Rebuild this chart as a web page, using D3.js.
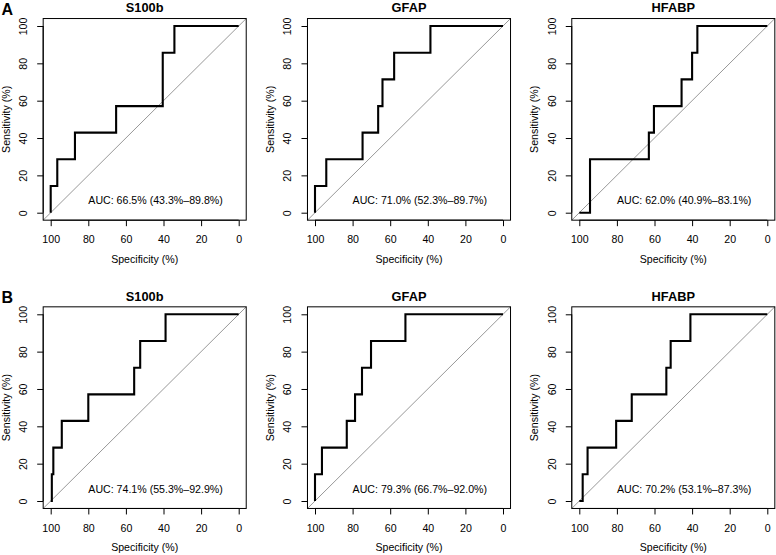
<!DOCTYPE html>
<html>
<head>
<meta charset="utf-8">
<script src="https://cdn.jsdelivr.net/npm/d3@7"></script>
<style>
  html, body { margin: 0; padding: 0; background: #fff; }
  svg { display: block; font-family: "Liberation Sans", Arial, Helvetica, sans-serif; }
</style>
</head>
<body>
<svg id="chart" width="776" height="555"></svg>
<script>
// ---- data ----
const rowLabels = ["A", "B"];
const markers = ["S100b", "GFAP", "HFABP"];
const xTicks = [100, 80, 60, 40, 20, 0];
const yTicks = [0, 20, 40, 60, 80, 100];
const xTitle = "Specificity (%)";
const yTitle = "Sensitivity (%)";

const aucA = ["AUC: 66.5% (43.3%\u201389.8%)", "AUC: 71.0% (52.3%\u201389.7%)", "AUC: 62.0% (40.9%\u201383.1%)"];
const aucB = ["AUC: 74.1% (55.3%\u201392.9%)", "AUC: 79.3% (66.7%\u201392.0%)", "AUC: 70.2% (53.1%\u201387.3%)"];

// ROC coordinates (specificity %, sensitivity %)
const specA_S100b = [100, 100, 96.5, 96.5, 87.1, 87.1, 65.2, 65.2, 40.4, 40.4, 34.2, 34.2, 0];
const sensA_S100b = [0, 14.3, 14.3, 28.6, 28.6, 42.9, 42.9, 57.1, 57.1, 85.7, 85.7, 100, 100];

const specA_GFAP = [100, 100, 94.0, 94.0, 74.7, 74.7, 66.4, 66.4, 64.1, 64.1, 57.9, 57.9, 38.6, 38.6, 0];
const sensA_GFAP = [0, 14.3, 14.3, 28.6, 28.6, 42.9, 42.9, 57.1, 57.1, 71.4, 71.4, 85.7, 85.7, 100, 100];

const specA_HFABP = [100, 94.3, 94.3, 63.0, 63.0, 60.3, 60.3, 45.6, 45.6, 40.0, 40.0, 37.2, 37.2, 0];
const sensA_HFABP = [0, 0, 28.6, 28.6, 42.9, 42.9, 57.1, 57.1, 71.4, 71.4, 85.7, 85.7, 100, 100];

const specB_S100b = [100, 99.4, 99.4, 98.6, 98.6, 94.1, 94.1, 80.0, 80.0, 55.6, 55.6, 52.4, 52.4, 38.9, 38.9, 0];
const sensB_S100b = [0, 0, 14.3, 14.3, 28.6, 28.6, 42.9, 42.9, 57.1, 57.1, 71.4, 71.4, 85.7, 85.7, 100, 100];

const specB_GFAP = [100, 100, 96.3, 96.3, 83.1, 83.1, 78.7, 78.7, 75.0, 75.0, 70.2, 70.2, 51.9, 51.9, 0];
const sensB_GFAP = [0, 14.3, 14.3, 28.6, 28.6, 42.9, 42.9, 57.1, 57.1, 71.4, 71.4, 85.7, 85.7, 100, 100];

const specB_HFABP = [100, 98.2, 98.2, 95.6, 95.6, 80.4, 80.4, 72.1, 72.1, 53.7, 53.7, 51.4, 51.4, 40.9, 40.9, 0];
const sensB_HFABP = [0, 0, 14.3, 14.3, 28.6, 28.6, 42.9, 42.9, 57.1, 57.1, 71.4, 71.4, 85.7, 85.7, 100, 100];

// ---- layout ----
const rows = [
  { label: rowLabels[0], auc: aucA, curves: [[specA_S100b, sensA_S100b], [specA_GFAP, sensA_GFAP], [specA_HFABP, sensA_HFABP]] },
  { label: rowLabels[1], auc: aucB, curves: [[specB_S100b, sensB_S100b], [specB_GFAP, sensB_GFAP], [specB_HFABP, sensB_HFABP]] }
];
const colX = [50.7, 315.0, 579.3];  // pixel of specificity 100
const plotW = 188;
const rowY = [26.0, 314.3];          // pixel of sensitivity 100
const plotH = 186.7;
const ext = 0.04;

const svg = d3.select("#chart");
const fontSm = 10.6;

rows.forEach((row, ri) => {
  // row label
  svg.append("text")
    .attr("x", 1.5).attr("y", rowY[ri] - 11.4)
    .attr("font-size", 16).attr("font-weight", "bold")
    .text(row.label);

  markers.forEach((m, ci) => {
    const x0 = colX[ci], y0 = rowY[ri];
    const x = d3.scaleLinear().domain([100, 0]).range([x0, x0 + plotW]);
    const y = d3.scaleLinear().domain([100, 0]).range([y0, y0 + plotH]);
    const xlo = x(100 + 100 * ext), xhi = x(0 - 100 * ext);
    const ytop = y(100 + 100 * ext), ybot = y(0 - 100 * ext);

    const g = svg.append("g");

    // diagonal reference line (corner to corner of plot region)
    g.append("line")
      .attr("x1", xlo).attr("y1", ybot)
      .attr("x2", xhi).attr("y2", ytop)
      .attr("stroke", "#8c8c8c").attr("stroke-width", 0.9);

    // ROC curve
    const [spec, sens] = row.curves[ci];
    const pts = spec.map((s, i) => [s, sens[i]]);
    g.append("path")
      .attr("d", d3.line().x(d => x(d[0])).y(d => y(d[1]))(pts))
      .attr("fill", "none").attr("stroke", "#000")
      .attr("stroke-width", 2.1).attr("stroke-linejoin", "miter");

    // box
    g.append("rect")
      .attr("x", xlo).attr("y", ytop)
      .attr("width", xhi - xlo).attr("height", ybot - ytop)
      .attr("fill", "none").attr("stroke", "#000").attr("stroke-width", 1);

    // x axis
    const xAxis = d3.axisBottom(x).tickValues(xTicks).tickSize(6).tickPadding(3)
      .tickFormat(d3.format("d"));
    const xg = g.append("g").attr("transform", `translate(0,${ybot})`).call(xAxis);
    xg.select(".domain").attr("d", `M${x(100)},0H${x(0)}`).attr("stroke", "#000");
    xg.selectAll("text").attr("font-size", fontSm).attr("font-family", null).attr("fill", "#000")
      .attr("dy", null).attr("y", 23.2);
    xg.selectAll("line").attr("stroke", "#000");

    // y axis
    const yAxis = d3.axisLeft(y).tickValues(yTicks).tickSize(6).tickFormat(d3.format("d"));
    const yg = g.append("g").attr("transform", `translate(${xlo},0)`).call(yAxis);
    yg.select(".domain").attr("d", `M0,${y(0)}V${y(100)}`).attr("stroke", "#000");
    yg.selectAll("line").attr("stroke", "#000");
    yg.selectAll("text").attr("font-size", fontSm).attr("font-family", null).attr("fill", "#000")
      .attr("x", null).attr("dy", null)
      .attr("text-anchor", "middle")
      .attr("transform", "translate(-16,0) rotate(-90)");

    // x title
    g.append("text")
      .attr("x", (xlo + xhi) / 2).attr("y", ybot + 42.5)
      .attr("text-anchor", "middle").attr("font-size", fontSm)
      .text(xTitle);

    // y title
    g.append("text")
      .attr("transform", `translate(${xlo - 33.5},${(ytop + ybot) / 2}) rotate(-90)`)
      .attr("text-anchor", "middle").attr("font-size", fontSm)
      .text(yTitle);

    // title
    g.append("text")
      .attr("x", (xlo + xhi) / 2).attr("y", ytop - 6.3)
      .attr("text-anchor", "middle").attr("font-size", 12.8).attr("font-weight", "bold")
      .text(m);

    // AUC text
    g.append("text")
      .attr("x", x(80)).attr("y", y(4.4))
      .attr("font-size", 10.6)
      .attr("textLength", 134.5).attr("lengthAdjust", "spacingAndGlyphs")
      .text(row.auc[ci]);
  });
});
</script>
</body>
</html>
